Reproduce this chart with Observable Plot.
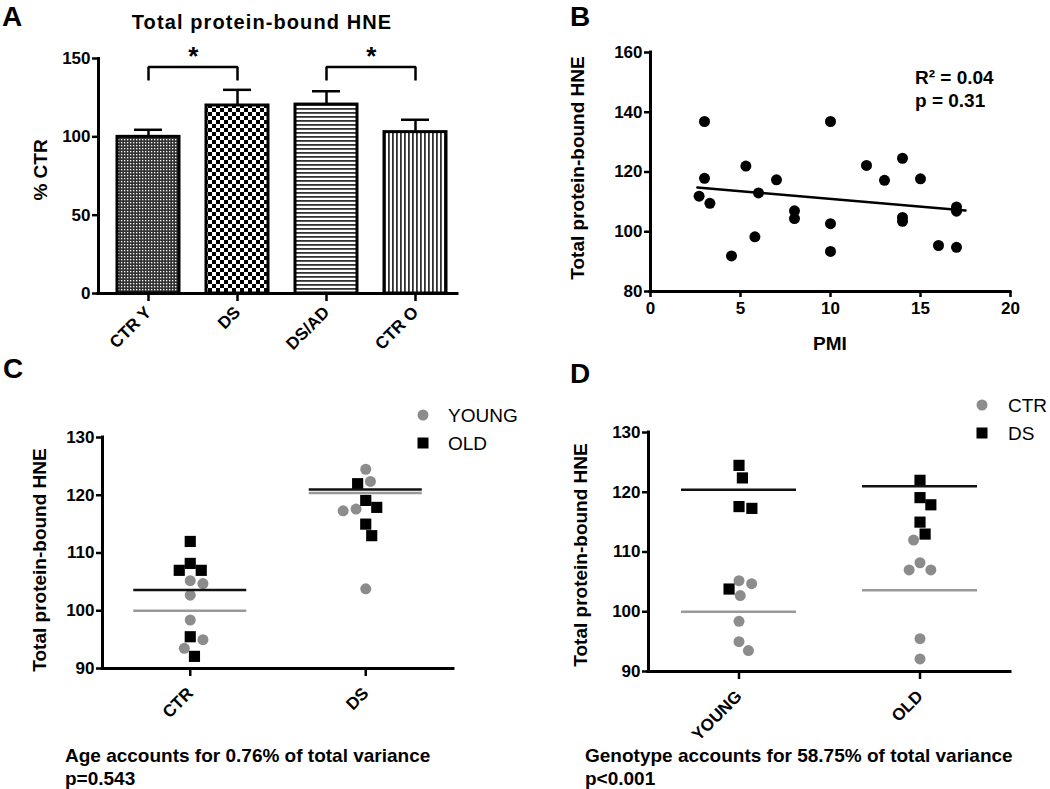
<!DOCTYPE html>
<html><head><meta charset="utf-8">
<script src="https://cdn.jsdelivr.net/npm/d3@7"></script>
<script src="https://cdn.jsdelivr.net/npm/@observablehq/plot@0.6"></script>
<style>
body{margin:0;background:#fff;}
#fig{position:relative;width:1050px;height:789px;overflow:hidden;font-family:"Liberation Sans",Arial,sans-serif;color:#000;background:#fff;}
.t{position:absolute;line-height:1;white-space:nowrap;font-weight:bold;transform:translateY(-50%);}
.n{font-weight:normal;}
.rot{position:absolute;line-height:1;white-space:nowrap;font-weight:bold;font-size:19px;transform:translate(-50%,-50%) rotate(-90deg);}
.sym{position:absolute;width:11px;height:11px;transform:translate(-50%,-50%);}
</style></head><body><div id="fig"></div>
<script>
// ---------- DATA ----------
// Panel A: bar chart (mean ± SEM, % CTR)
const groupsA = ["CTR Y", "DS", "DS/AD", "CTR O"];
const meansA = [100, 120, 120.6, 103];
const semA = [4.5, 10, 8.5, 7.9];
const sigPairs = [["CTR Y", "DS"], ["DS/AD", "CTR O"]];
const bracketTop = 144.5, bracketFoot = 136, starLevel = 151;
const ticksA = [0, 50, 100, 150];

// Panel B: scatter vs PMI
const pmi = [2.7, 3.0, 3.0, 3.3, 4.5, 5.3, 5.8, 6.0, 7.0, 8.0, 8.0, 10.0, 10.0, 10.0, 12.0, 13.0, 14.0, 14.0, 14.0, 15.0, 16.0, 17.0, 17.0, 17.0];
const hneB = [111.9, 136.9, 117.9, 109.5, 91.9, 122.0, 98.3, 113.0, 117.4, 107.0, 104.4, 136.9, 102.7, 93.4, 122.2, 117.2, 124.6, 104.8, 103.5, 117.7, 95.4, 108.3, 106.9, 94.8];
const regX = [2.6, 17.5];
const regY = [114.8, 107.1];
const ticksBx = [0, 5, 10, 15, 20];
const ticksBy = [80, 100, 120, 140, 160];

// Panels C & D: individual values
const youngCTR = [104.7, 105.2, 102.7, 98.4, 95.0, 93.5];
const oldCTR = [112.0, 108.2, 107.0, 107.0, 95.5, 92.1];
const youngDS = [124.5, 122.4, 117.6, 117.3, 103.8];
const oldDS = [122.0, 119.1, 117.9, 115.0, 113.0];
const meanYoungCTR = 100.0, meanOldCTR = 103.6, meanYoungDS = 120.4, meanOldDS = 121.0;
const catsC = ["CTR", "DS"];
const catsD = ["YOUNG", "OLD"];
const ticksCD = [90, 100, 110, 120, 130];

// ---------- HELPERS ----------
const fig = document.getElementById("fig");
function place(el, left, top) { el.style.position = "absolute"; el.style.left = left + "px"; el.style.top = top + "px"; fig.appendChild(el); }
function txt(s, left, cy, size, cls) {
  const d = document.createElement("div"); d.className = "t " + (cls || ""); d.textContent = s;
  d.style.left = left + "px"; d.style.top = cy + "px"; d.style.fontSize = size + "px"; fig.appendChild(d); return d;
}
function ctxt(s, cx, cy, size) { const d = txt(s, cx, cy, size); d.style.transform = "translate(-50%,-50%)"; return d; }
function rot(s, cx, cy) { const d = document.createElement("div"); d.className = "rot"; d.textContent = s; d.style.left = cx + "px"; d.style.top = cy + "px"; fig.appendChild(d); }
function sym(cx, cy, color, round) { const d = document.createElement("div"); d.className = "sym"; d.style.left = cx + "px"; d.style.top = cy + "px"; d.style.background = color; if (round) d.style.borderRadius = "50%"; fig.appendChild(d); }
const style = {fontFamily: '"Liberation Sans", Arial, sans-serif', fontSize: "17px", fontWeight: "bold", color: "#000", background: "transparent", overflow: "visible"};
const GRAY = "#8c8c8c";
function finishAxes(svg, xSize) {
  const s = d3.select(svg);
  s.selectAll('g[aria-label$="tick"] path, g[aria-label$="tick"] line').attr("stroke-width", 2.5);
  s.selectAll('g[aria-label="y-axis tick label"]').attr("font-size", 17).style("font-size", "17px").attr("font-weight", "bold");
  s.selectAll('g[aria-label="x-axis tick label"]').attr("font-size", xSize).style("font-size", xSize + "px").attr("font-weight", "bold");
}

// beeswarm offsets (px) computed from values
function dodge(values, pxPerUnit, d) {
  const placed = [];
  return values.map(v => {
    const y = v * pxPerUnit;
    const cands = [0];
    for (const p of placed) {
      const dy = Math.abs(p.y - y);
      if (dy < d) { const dx = Math.sqrt(d * d - dy * dy); cands.push(p.x + dx, p.x - dx); }
    }
    cands.sort((a, b) => Math.abs(a) - Math.abs(b) || b - a);
    const x = cands.find(c => placed.every(p => Math.hypot(p.x - c, p.y - y) >= d - 1e-6));
    placed.push({x, y});
    return x;
  });
}

// ---------- PANEL A ----------
const tableA = groupsA.map((g, i) => ({g, m: meansA[i], top: meansA[i] + semA[i]}));
const fillsA = {"CTR Y": "url(#pFine)", "DS": "url(#pCheck)", "DS/AD": "url(#pHoriz)", "CTR O": "url(#pVert)"};
const rangeA = [98, 464], padInA = 0.306, padOutA = 0.2;
const stepA = d3.scaleBand().domain(groupsA).range(rangeA).paddingInner(padInA).paddingOuter(padOutA).step();
const bracketPts = sigPairs.flatMap(([a, b], k) => [{k, g: a, v: bracketFoot}, {k, g: a, v: bracketTop}, {k, g: b, v: bracketTop}, {k, g: b, v: bracketFoot}]);
const plotA = Plot.plot({
  width: 470, height: 380, marginLeft: 98, marginRight: 13, marginTop: 58, marginBottom: 87,
  style,
  x: {domain: groupsA, range: rangeA, paddingInner: padInA, paddingOuter: padOutA},
  y: {domain: [0, 150]},
  color: {type: "identity"},
  marks: [
    Plot.ruleX(tableA, {x: "g", y1: "m", y2: "top", strokeWidth: 2.5}),
    Plot.tickY(tableA, {x: "g", y: "top", strokeWidth: 2.5, insetLeft: 17, insetRight: 17}),
    Plot.barY(tableA, {x: "g", y: "m", fill: d => fillsA[d.g], stroke: "#000", strokeWidth: 3}),
    Plot.line(bracketPts, {x: "g", y: "v", z: "k", strokeWidth: 2.5, strokeLinejoin: "miter", strokeLinecap: "butt"}),
    Plot.text(sigPairs, {x: d => d[0], y: () => starLevel, text: () => "*", dx: stepA / 2, fontSize: 26, fontWeight: "bold"}),
    Plot.ruleY([0], {strokeWidth: 3, strokeLinecap: "square"}),
    Plot.frame({anchor: "left", strokeWidth: 3}),
    Plot.axisY({ticks: ticksA, tickSize: 6, tickPadding: 2, strokeWidth: 2.5, label: null, fontSize: 17, fontWeight: "bold"}),
    Plot.axisX({tickRotate: -45, tickSize: 8, tickPadding: 8, strokeWidth: 2.5, label: null, fontSize: 17, fontWeight: "bold"})
  ]
});
(function addPatterns(svg) {
  const defs = d3.select(svg).insert("defs", ":first-child");
  let p = defs.append("pattern").attr("id", "pFine").attr("patternUnits", "userSpaceOnUse").attr("width", 3).attr("height", 3);
  p.append("rect").attr("width", 3).attr("height", 3).attr("fill", "#333");
  p.append("rect").attr("x", 1).attr("y", 1).attr("width", 1.3).attr("height", 1.3).attr("fill", "#fff");
  p = defs.append("pattern").attr("id", "pCheck").attr("patternUnits", "userSpaceOnUse").attr("width", 8).attr("height", 8);
  p.append("rect").attr("width", 8).attr("height", 8).attr("fill", "#fff");
  p.append("rect").attr("width", 4).attr("height", 4).attr("fill", "#000");
  p.append("rect").attr("x", 4).attr("y", 4).attr("width", 4).attr("height", 4).attr("fill", "#000");
  p = defs.append("pattern").attr("id", "pHoriz").attr("patternUnits", "userSpaceOnUse").attr("width", 4).attr("height", 4);
  p.append("rect").attr("width", 4).attr("height", 4).attr("fill", "#fff");
  p.append("rect").attr("width", 4).attr("height", 1.8).attr("fill", "#333");
  p = defs.append("pattern").attr("id", "pVert").attr("patternUnits", "userSpaceOnUse").attr("width", 4).attr("height", 4);
  p.append("rect").attr("width", 4).attr("height", 4).attr("fill", "#fff");
  p.append("rect").attr("width", 1.8).attr("height", 4).attr("fill", "#333");
})(plotA);
finishAxes(plotA, 17);
place(plotA, 0, 0);

// ---------- PANEL B ----------
const ptsB = pmi.map((x, i) => ({x, y: hneB[i]}));
const reg = regX.map((x, i) => ({x, y: regY[i]}));
const plotB = Plot.plot({
  width: 530, height: 380, marginLeft: 130, marginRight: 40, marginTop: 52, marginBottom: 89,
  style,
  x: {domain: [0, 20]},
  y: {domain: [80, 160]},
  marks: [
    Plot.ruleX([0], {strokeWidth: 3, strokeLinecap: "square"}),
    Plot.ruleY([80], {strokeWidth: 3, strokeLinecap: "square"}),
    Plot.line(reg, {x: "x", y: "y", strokeWidth: 2.5}),
    Plot.dot(ptsB, {x: "x", y: "y", r: 5.5, fill: "#000"}),
    Plot.axisX({ticks: ticksBx, tickSize: 6, tickPadding: 4, strokeWidth: 2.5, label: null, fontSize: 17, fontWeight: "bold"}),
    Plot.axisY({ticks: ticksBy, tickSize: 6, tickPadding: 2, strokeWidth: 2.5, label: null, fontSize: 17, fontWeight: "bold"})
  ]
});
finishAxes(plotB, 17);
place(plotB, 520, 0);

// ---------- PANELS C & D ----------
function swarmPlot(opts) {
  const {groups, cats, W, H, ml, mr, mt, mb, means} = opts;
  const pyu = (H - mt - mb) / 40;
  const pxu = (W - ml - mr) / 2;
  const pts = [];
  groups.forEach((items, ci) => {
    const sorted = items.slice().sort((a, b) => b.v - a.v);
    const offs = dodge(sorted.map(d => d.v), pyu, 13);
    sorted.forEach((d, i) => pts.push({...d, x: ci + offs[i] / pxu}));
  });
  const hw = opts.halfWidth / pxu;
  const svg = Plot.plot({
    width: W, height: H, marginLeft: ml, marginRight: mr, marginTop: mt, marginBottom: mb,
    style,
    x: {domain: [-0.5, 1.5]},
    y: {domain: [90, 130]},
    color: {type: "identity"},
    marks: [
      Plot.ruleX([-0.5], {strokeWidth: 3, strokeLinecap: "square"}),
      Plot.ruleY([90], {strokeWidth: 3, strokeLinecap: "square"}),
      Plot.dot(pts.filter(d => d.s === "circle"), {x: "x", y: "v", r: 5.5, fill: GRAY}),
      Plot.dot(pts.filter(d => d.s === "square"), {x: "x", y: "v", r: 6.3, symbol: "square", fill: "#000"}),
      Plot.ruleY(means, {y: "v", x1: d => d.i - hw, x2: d => d.i + hw, stroke: "c", strokeWidth: 2.5}),
      Plot.axisX({ticks: [0, 1], tickFormat: i => cats[i], tickRotate: -45, tickSize: 8, tickPadding: 14, strokeWidth: 2.5, label: null, fontSize: 17, fontWeight: "bold"}),
      Plot.axisY({ticks: ticksCD, tickSize: 6, tickPadding: 2, strokeWidth: 2.5, label: null, fontSize: 17, fontWeight: "bold"})
    ]
  });
  finishAxes(svg, 17);
  return svg;
}
const circ = v => ({v, s: "circle"}), sq = v => ({v, s: "square"});
const plotC = swarmPlot({
  groups: [[...youngCTR.map(circ), ...oldCTR.map(sq)], [...youngDS.map(circ), ...oldDS.map(sq)]],
  cats: catsC, W: 480, H: 330, ml: 102, mr: 27, mt: 37, mb: 62, halfWidth: 56.5,
  means: [{i: 0, v: meanYoungCTR, c: "#999"}, {i: 0, v: meanOldCTR, c: "#111"}, {i: 1, v: meanYoungDS, c: "#999"}, {i: 1, v: meanOldDS, c: "#111"}]
});
place(plotC, 0, 400);
const plotD = swarmPlot({
  groups: [[...youngCTR.map(circ), ...youngDS.map(sq)], [...oldCTR.map(circ), ...oldDS.map(sq)]],
  cats: catsD, W: 520, H: 330, ml: 118, mr: 40, mt: 32, mb: 59, halfWidth: 57.5,
  means: [{i: 0, v: meanYoungCTR, c: "#999"}, {i: 0, v: meanYoungDS, c: "#111"}, {i: 1, v: meanOldCTR, c: "#999"}, {i: 1, v: meanOldDS, c: "#111"}]
});
place(plotD, 530, 400);

// ---------- TEXT, LEGENDS ----------
txt("A", 2, 17, 28); txt("B", 570, 17, 28); txt("C", 3, 369, 28); txt("D", 570, 374, 28);
const ttl = ctxt("Total protein-bound HNE", 262, 22, 20); ttl.style.letterSpacing = "1.1px";
rot("% CTR", 40, 170);
rot("Total protein-bound HNE", 577, 168);
ctxt("PMI", 830, 343, 19);
txt("R² = 0.04", 915, 77, 19);
txt("p = 0.31", 915, 100, 19);
rot("Total protein-bound HNE", 39, 560);
rot("Total protein-bound HNE", 580, 555);
sym(423, 415, GRAY, true); txt("YOUNG", 448, 415, 19, "n");
sym(423, 443, "#000", false); txt("OLD", 448, 443, 19, "n");
sym(982, 405, GRAY, true); txt("CTR", 1008, 405, 19, "n");
sym(982, 433, "#000", false); txt("DS", 1008, 433, 19, "n");
txt("Age accounts for 0.76% of total variance", 65, 755, 19);
txt("p=0.543", 65, 778, 19);
txt("Genotype accounts for 58.75% of total variance", 585, 755, 19);
txt("p<0.001", 585, 778, 19);
</script></body></html>
